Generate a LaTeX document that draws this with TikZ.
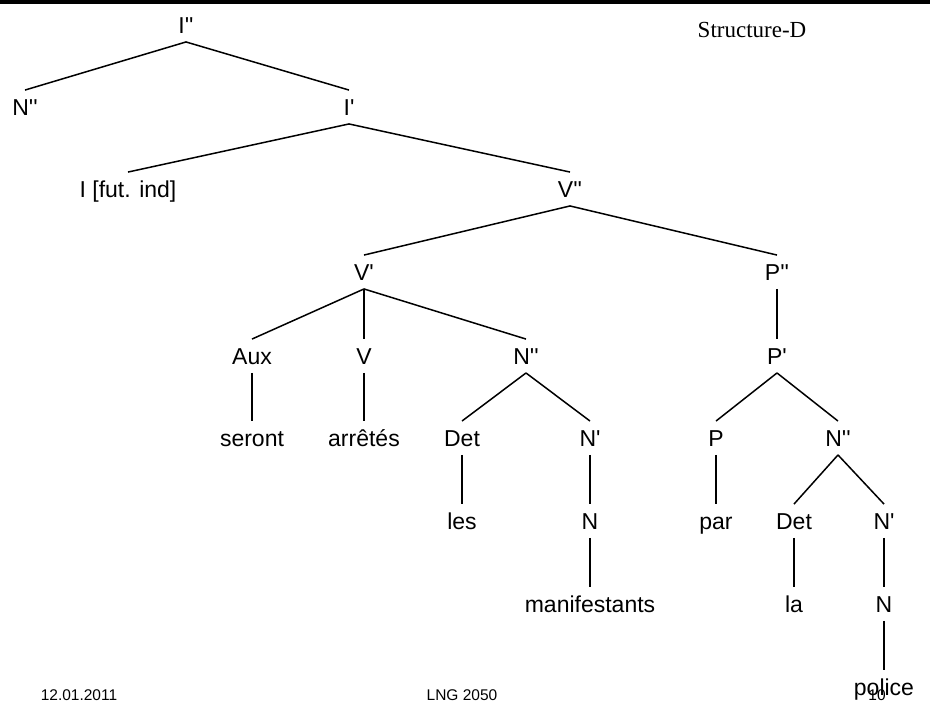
\documentclass[tikz,border=0pt]{standalone}
\usepackage{fontspec}
\setmainfont{Liberation Sans}[Ligatures=TeXOff]
\newfontfamily\titlefont{Liberation Serif}
\usepackage{tikz}

\tikzset{
	cat/.style={font=\fontsize{23}{23}\selectfont, text height=16.5pt, text depth=0pt, inner xsep=1pt, inner ysep=8.5pt},
	foot/.style={font=\fontsize{15.5}{15.5}\selectfont, inner sep=0pt},
	branch/.style={line width=1.5pt}
}

\begin{document}
\begin{tikzpicture}[x=1pt, y=-1pt]
	\useasboundingbox (0,0) rectangle (930,716);
	\fill (0,0) rectangle (930,4);
	\node(title) at (752,30) {\titlefont\fontsize{23}{23}\selectfont Structure-D};
	%%% upper part
	\node[cat](Ipp) at (186,25) {I''};
	\node[cat](Npp) at (25,107) {N''};
	\node[cat](Ip) at (349,107) {I'};
	\node[cat](Ifut) at (128,189) {I [fut. ind]};
	\node[cat](Vpp) at (570,189) {V''};
	\node[cat](Vp) at (364,272) {V'};
	\node[cat](Ppp) at (777,272) {P''};
	%%% V' subtree
	\node[cat](Aux) at (252,356) {Aux};
	\node[cat](V) at (364,356) {V};
	\node[cat](Nppa) at (526,356) {N''};
	\node[cat](seront) at (252,438) {seront};
	\node[cat](arretes) at (364,438) {arrêtés};
	\node[cat](Deta) at (462,438) {Det};
	\node[cat](Npa) at (590,438) {N'};
	\node[cat](les) at (462,521) {les};
	\node[cat](Na) at (590,521) {N};
	\node[cat](manif) at (590,604) {manifestants};
	%%% P'' subtree
	\node[cat](Pp) at (777,356) {P'};
	\node[cat](P) at (716,438) {P};
	\node[cat](Nppb) at (838,438) {N''};
	\node[cat](par) at (716,521) {par};
	\node[cat](Detb) at (794,521) {Det};
	\node[cat](Npb) at (884,521) {N'};
	\node[cat](la) at (794,604) {la};
	\node[cat](Nb) at (884,604) {N};
	\node[cat](police) at (884,687) {police};
	%%% footer
	\node[foot](date) at (79,695) {12.01.2011};
	\node[foot](course) at (462,695) {LNG 2050};
	\node[foot](page) at (877,695) {10};

	\draw[branch] (Ipp.south) -- (Npp.north);
	\draw[branch] (Ipp.south) -- (Ip.north);
	\draw[branch] (Ip.south) -- (Ifut.north);
	\draw[branch] (Ip.south) -- (Vpp.north);
	\draw[branch] (Vpp.south) -- (Vp.north);
	\draw[branch] (Vpp.south) -- (Ppp.north);
	\draw[branch] (Vp.south) -- (Aux.north);
	\draw[branch] (Vp.south) -- (V.north);
	\draw[branch] (Vp.south) -- (Nppa.north);
	\draw[branch] (Aux.south) -- (seront.north);
	\draw[branch] (V.south) -- (arretes.north);
	\draw[branch] (Nppa.south) -- (Deta.north);
	\draw[branch] (Nppa.south) -- (Npa.north);
	\draw[branch] (Deta.south) -- (les.north);
	\draw[branch] (Npa.south) -- (Na.north);
	\draw[branch] (Na.south) -- (manif.north);
	\draw[branch] (Ppp.south) -- (Pp.north);
	\draw[branch] (Pp.south) -- (P.north);
	\draw[branch] (Pp.south) -- (Nppb.north);
	\draw[branch] (P.south) -- (par.north);
	\draw[branch] (Nppb.south) -- (Detb.north);
	\draw[branch] (Nppb.south) -- (Npb.north);
	\draw[branch] (Detb.south) -- (la.north);
	\draw[branch] (Npb.south) -- (Nb.north);
	\draw[branch] (Nb.south) -- (police.north);
\end{tikzpicture}
\end{document}
